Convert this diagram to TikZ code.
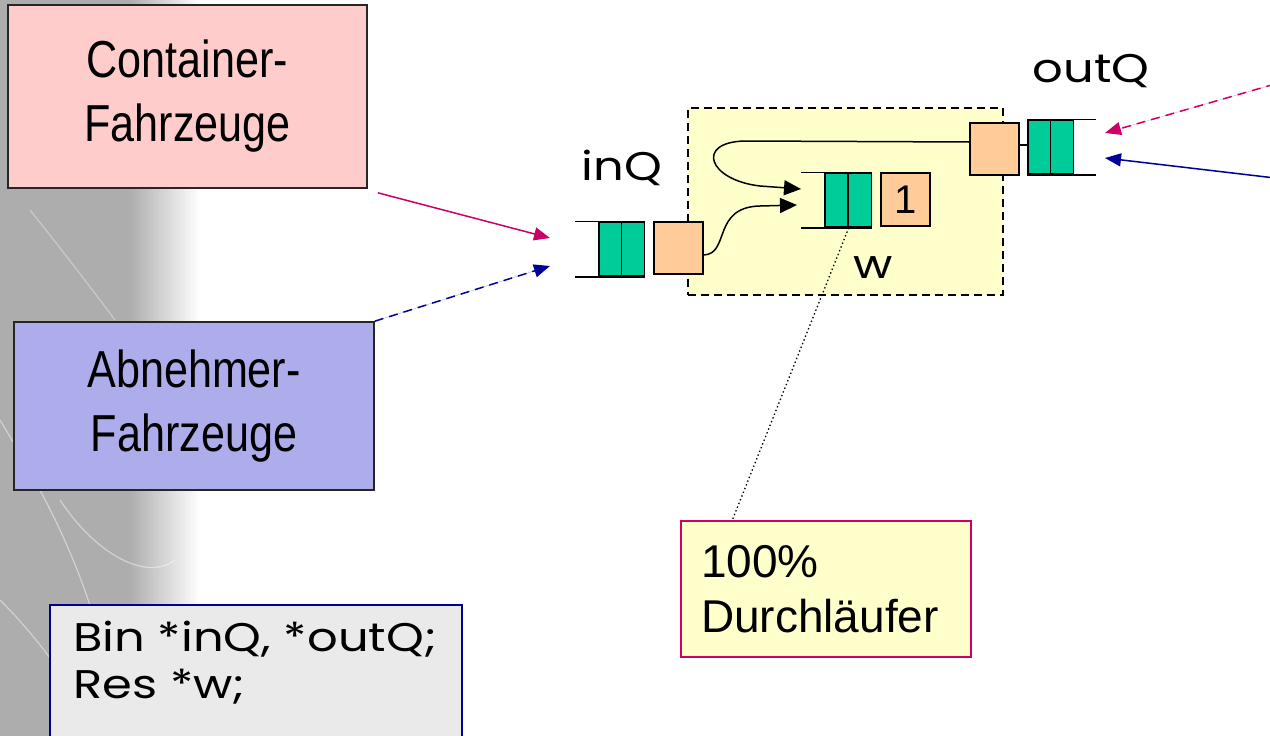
\documentclass[tikz,border=0pt]{standalone}
\usepackage{fontspec}
\setmainfont{Liberation Sans}
\newfontfamily\boxfont[FakeStretch=0.83]{Liberation Sans}
\newfontfamily\comicfont[FakeStretch=1.2]{Poppins}
\usetikzlibrary{arrows.meta}

\definecolor{containerpink}{HTML}{FFCCCC}
\definecolor{abnehmerblue}{HTML}{ADADEB}
\definecolor{noteyellow}{HTML}{FFFFCC}
\definecolor{serverpeach}{HTML}{FFCC99}
\definecolor{cellgreen}{HTML}{00CC99}
\definecolor{linkmagenta}{HTML}{CC0066}
\definecolor{linknavy}{HTML}{000099}
\definecolor{codegrey}{HTML}{EAEAEA}

\providecommand{\boxborder}{1.6pt}
\providecommand{\queueline}{1.5pt}
\providecommand{\flowthickness}{1.5pt}

\begin{document}
\begin{tikzpicture}[
    x=1pt, y=-1pt,
    % Box styles
    vehicle_box/.style={
        rectangle,
        draw=black!85,
        line width=\boxborder,
        inner sep=0pt,
        align=center,
        font=\boxfont\fontsize{52}{64}\selectfont
    },
    queue_cell/.style={
        rectangle,
        draw=black,
        fill=cellgreen,
        line width=\queueline,
        minimum width=23pt,
        minimum height=54pt,
        inner sep=0pt
    },
    server_box/.style={
        rectangle,
        draw=black,
        fill=serverpeach,
        line width=\queueline,
        minimum width=49pt,
        minimum height=52pt,
        inner sep=0pt
    },
    queue_label/.style={font=\comicfont\fontsize{40}{48}\selectfont},
    % Edge styles
    queue_line/.style={line width=\queueline, draw=black},
    flow_edge/.style={
        line width=\flowthickness,
        -{Triangle[length=17pt,width=15pt]}
    },
    feed_edge/.style={
        line width=\flowthickness,
        -{Triangle[length=16pt,width=13pt]}
    }
]
    \useasboundingbox (0,0) rectangle (1270,736);

    % ==================== BACKGROUND ====================
    \fill[black!32] (0,0) rectangle (130,736);
    \shade[left color=black!32, right color=white] (129.5,0) rectangle (200,736);
    \draw[white, opacity=0.45, line width=1.2pt] (0,600) .. controls (50,650) and (80,700) .. (95,736);
    \draw[white, opacity=0.45, line width=1.2pt] (0,420) .. controls (60,520) and (100,600) .. (120,736);
    \draw[white, opacity=0.45, line width=1.2pt] (60,500) .. controls (100,560) and (150,580) .. (175,560);
    \draw[white, opacity=0.35, line width=1.2pt] (30,210) .. controls (70,260) and (100,300) .. (115,320);

    % ==================== VEHICLE SOURCES ====================
    \node[vehicle_box, fill=containerpink, minimum width=359pt, minimum height=183pt]
        (cont) at (187.5,96.5) {Container-\\Fahrzeuge};
    \node[vehicle_box, fill=abnehmerblue, minimum width=360pt, minimum height=168pt]
        (abn) at (194,406) {Abnehmer-\\Fahrzeuge};

    % Declarations
    \node[rectangle, draw=linknavy, fill=codegrey, line width=1.5pt,
          minimum width=412pt, minimum height=150pt, anchor=north west]
        (code) at (49,604) {};
    \node[font=\comicfont\fontsize{40}{47}\selectfont, align=left, inner sep=0pt, anchor=north west]
        (codetxt) at ([xshift=24pt,yshift=-17pt]code.north west) {Bin *inQ, *outQ;\\Res *w;};

    % ==================== STATION (Res w) ====================
    \node[rectangle, draw=black, fill=noteyellow, line width=1.5pt,
          dash pattern=on 8pt off 5pt, minimum width=315pt, minimum height=187pt]
        (wbox) at (845.5,201.5) {};

    % Arrow targets at the open queue ends
    \coordinate (inq_in_a) at (550,238);
    \coordinate (inq_in_b) at (550,266);
    \coordinate (wq_in_a) at (801,189);
    \coordinate (wq_in_b) at (797,205);
    \coordinate (outq_in_a) at (1105,133);
    \coordinate (outq_in_b) at (1105,158);
    \coordinate (right_a) at (1275,84);
    \coordinate (right_b) at (1275,178);

    % inQ
    \node[queue_cell] (inq1) at (610.5,249) {};
    \node[queue_cell] (inq2) at (633,249) {};
    \node[server_box] (insrv) at (678.5,248) {};
    \draw[queue_line] ([xshift=-23pt]inq1.north west) -- (inq2.north east);
    \draw[queue_line] ([xshift=-23pt]inq1.south west) -- (inq2.south east);
    \node[queue_label, anchor=base] (inqlbl) at (622,180) {inQ};

    % w
    \node[queue_cell] (wq1) at (836.5,200) {};
    \node[queue_cell] (wq2) at (860,200) {};
    \node[server_box, minimum height=53pt, font=\fontsize{40}{48}\selectfont] (wsrv) at (905.5,199.5) {1};
    \draw[queue_line] ([xshift=-23pt]wq1.north west) -- (wq2.north east);
    \draw[queue_line] ([xshift=-23pt]wq1.south west) -- (wq2.south east);
    \node[queue_label, anchor=base] (wlbl) at (873,278) {w};

    % outQ
    \node[server_box] (outsrv) at (994.5,149) {};
    \node[queue_cell] (outq1) at (1039.5,147) {};
    \node[queue_cell] (outq2) at (1062,147) {};
    \draw[queue_line] (outq1.north west) -- ([xshift=22pt]outq2.north east);
    \draw[queue_line] (outq1.south west) -- ([xshift=22pt]outq2.south east);
    \draw[queue_line] ([yshift=4pt]outsrv.east) -- ([yshift=2pt]outq1.west);
    \node[queue_label, anchor=base] (outqlbl) at (1091,82) {outQ};

    % Flows inside the station
    \draw[flow_edge] ([yshift=-7pt]insrv.east) .. controls (730,254) and (712,207) .. (760,206) -- (wq_in_b);
    \draw[flow_edge] ([yshift=7pt]outsrv.west) -- (745,141) .. controls (695,142) and (708,180) .. (760,186) -- (wq_in_a);

    % ==================== ARRIVALS ====================
    \draw[feed_edge, draw=linkmagenta, fill=linkmagenta] ([xshift=10pt,yshift=-4pt]cont.south east) -- (inq_in_a);
    \draw[feed_edge, draw=linknavy, fill=linknavy, dash pattern=on 9pt off 6pt] (abn.north east) -- (inq_in_b);
    \draw[feed_edge, draw=linkmagenta, fill=linkmagenta, dash pattern=on 9pt off 6pt] (right_a) -- (outq_in_a);
    \draw[feed_edge, draw=linknavy, fill=linknavy] (right_b) -- (outq_in_b);

    % ==================== NOTE ====================
    \node[rectangle, draw=linkmagenta, fill=noteyellow, line width=1.5pt,
          minimum width=290pt, minimum height=136pt, text width=250pt, inner xsep=20pt,
          align=left, font=\fontsize{46}{55}\selectfont]
        (note) at (826,589) {100\%\\Durchläufer};
    \draw[line width=1.3pt, dash pattern=on 1.4pt off 2.6pt] (wq1.south east) -- ([xshift=52pt]note.north west);

\end{tikzpicture}
\end{document}
